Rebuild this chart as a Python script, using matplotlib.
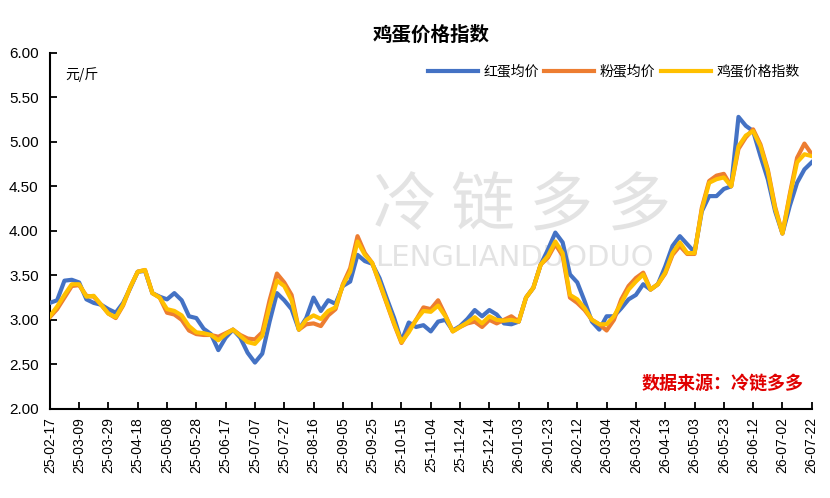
import numpy as np
import pandas as pd
import matplotlib
matplotlib.use("Agg")
import matplotlib.pyplot as plt
import matplotlib.dates as mdates
from matplotlib.ticker import FormatStrFormatter

plt.rcParams['font.family'] = ['Noto Sans CJK SC', 'DejaVu Sans']

# 数据：每5天一个点，2025-02-17 起
start_date = '2025-02-17'
end_date = '2026-07-22'

red_egg = [3.19, 3.22, 3.44, 3.45, 3.42, 3.23, 3.19, 3.17, 3.12, 3.08,
           3.19, 3.36, 3.54, 3.55, 3.30, 3.26, 3.23, 3.30, 3.22, 3.04,
           3.02, 2.90, 2.84, 2.66, 2.80, 2.89, 2.80, 2.63, 2.52, 2.62,
           2.98, 3.30, 3.22, 3.12, 2.89, 3.02, 3.25, 3.10, 3.22, 3.18,
           3.38, 3.43, 3.73, 3.66, 3.63, 3.47, 3.24, 3.02, 2.76, 2.97,
           2.92, 2.94, 2.87, 2.98, 3.00, 2.88, 2.93, 3.01, 3.11, 3.04,
           3.11, 3.06, 2.96, 2.95, 2.98, 3.25, 3.36, 3.62, 3.79, 3.98,
           3.87, 3.51, 3.42, 3.21, 2.98, 2.89, 3.04, 3.04, 3.13, 3.23,
           3.28, 3.40, 3.34, 3.40, 3.60, 3.83, 3.94, 3.85, 3.76, 4.22,
           4.39, 4.39, 4.47, 4.50, 5.28, 5.18, 5.12, 4.84, 4.58, 4.22,
           3.97, 4.28, 4.54, 4.69, 4.77]

pink_egg = [3.03, 3.12, 3.25, 3.38, 3.39, 3.27, 3.26, 3.17, 3.07, 3.02,
            3.16, 3.37, 3.54, 3.56, 3.30, 3.25, 3.08, 3.06, 3.00, 2.88,
            2.84, 2.83, 2.83, 2.81, 2.85, 2.89, 2.83, 2.79, 2.78, 2.86,
            3.22, 3.52, 3.42, 3.28, 2.89, 2.95, 2.96, 2.93, 3.05, 3.12,
            3.40, 3.58, 3.94, 3.75, 3.64, 3.41, 3.18, 2.95, 2.74, 2.88,
            3.00, 3.14, 3.12, 3.22, 3.05, 2.87, 2.92, 2.96, 2.98, 2.92,
            3.00, 2.96, 3.00, 3.04, 2.98, 3.25, 3.36, 3.62, 3.70, 3.85,
            3.72, 3.25, 3.19, 3.11, 3.00, 2.95, 2.88, 3.00, 3.23, 3.38,
            3.47, 3.53, 3.34, 3.40, 3.52, 3.73, 3.83, 3.74, 3.74, 4.26,
            4.56, 4.62, 4.64, 4.50, 4.92, 5.05, 5.14, 4.97, 4.69, 4.27,
            3.97, 4.41, 4.82, 4.98, 4.86]

egg_index = [3.04, 3.15, 3.28, 3.40, 3.40, 3.26, 3.27, 3.17, 3.07, 3.03,
             3.17, 3.37, 3.54, 3.56, 3.30, 3.25, 3.12, 3.10, 3.05, 2.93,
             2.86, 2.85, 2.83, 2.77, 2.84, 2.89, 2.82, 2.75, 2.73, 2.82,
             3.15, 3.44, 3.38, 3.22, 2.89, 3.00, 3.05, 3.01, 3.10, 3.14,
             3.39, 3.54, 3.88, 3.73, 3.64, 3.42, 3.19, 2.96, 2.75, 2.86,
             3.00, 3.10, 3.09, 3.16, 3.04, 2.87, 2.92, 2.97, 3.03, 2.96,
             3.04, 3.00, 2.99, 3.00, 2.98, 3.25, 3.36, 3.62, 3.72, 3.88,
             3.75, 3.28, 3.23, 3.13, 3.00, 2.95, 2.95, 3.04, 3.19, 3.34,
             3.43, 3.51, 3.34, 3.40, 3.53, 3.75, 3.87, 3.75, 3.75, 4.24,
             4.54, 4.58, 4.60, 4.50, 4.95, 5.07, 5.12, 4.95, 4.67, 4.25,
             3.97, 4.39, 4.77, 4.86, 4.84]

dates = pd.date_range(start_date, periods=len(red_egg), freq='5D')
tick_dates = pd.date_range(start_date, end_date, freq='20D')

fig = plt.figure(figsize=(8.3, 4.98), dpi=100)
ax = fig.add_axes([0.060, 0.179, 0.918, 0.715])

# 水印
ax.text(0.62, 0.565, '冷 链 多 多', transform=ax.transAxes, fontsize=46,
        color='#c8c8c8', alpha=0.5, ha='center', va='center', zorder=0)
ax.text(0.61, 0.425, 'LENGLIANDUODUO', transform=ax.transAxes, fontsize=21,
        color='#c8c8c8', alpha=0.5, ha='center', va='center', zorder=0,
        family='DejaVu Sans')

ax.plot(dates, red_egg, color='#4472C4', lw=3.0, label='红蛋均价', zorder=3)
ax.plot(dates, pink_egg, color='#ED7D31', lw=3.0, label='粉蛋均价', zorder=4)
ax.plot(dates, egg_index, color='#FFC000', lw=3.0, label='鸡蛋价格指数', zorder=5)

ax.set_xlim(pd.Timestamp(start_date), pd.Timestamp(end_date))
ax.set_ylim(2, 6)
ax.set_yticks(np.arange(2, 6.01, 0.5))
ax.yaxis.set_major_formatter(FormatStrFormatter('%.2f'))
ax.set_xticks(tick_dates)
ax.xaxis.set_major_formatter(mdates.DateFormatter('%y-%m-%d'))

for s in ['top', 'right']:
    ax.spines[s].set_visible(False)
for s in ['left', 'bottom']:
    ax.spines[s].set_linewidth(1.5)
    ax.spines[s].set_color('black')

ax.tick_params(axis='both', direction='in', length=5, width=1.3, color='black')
ax.tick_params(axis='y', labelsize=11, pad=8)
ax.tick_params(axis='x', labelsize=10, rotation=90, pad=6)
for lab in ax.get_yticklabels() + ax.get_xticklabels():
    lab.set_family('Liberation Sans')

fig.text(0.52, 0.930, '鸡蛋价格指数', fontsize=14, fontweight='bold',
         ha='center', va='center')
ax.text(0.02, 0.96, '元/斤', transform=ax.transAxes, fontsize=10,
        ha='left', va='top')
ax.text(0.99, 0.07, '数据来源：冷链多多', transform=ax.transAxes, fontsize=13,
        color='#E00000', fontweight='bold', fontstyle='italic',
        ha='right', va='center')

ax.legend(loc='upper right', bbox_to_anchor=(0.995, 0.99), ncol=3, frameon=False,
          fontsize=10, handlelength=3.6, handletextpad=0.4, columnspacing=0.4,
          borderaxespad=0.2)

fig.savefig('out.png', dpi=100)
